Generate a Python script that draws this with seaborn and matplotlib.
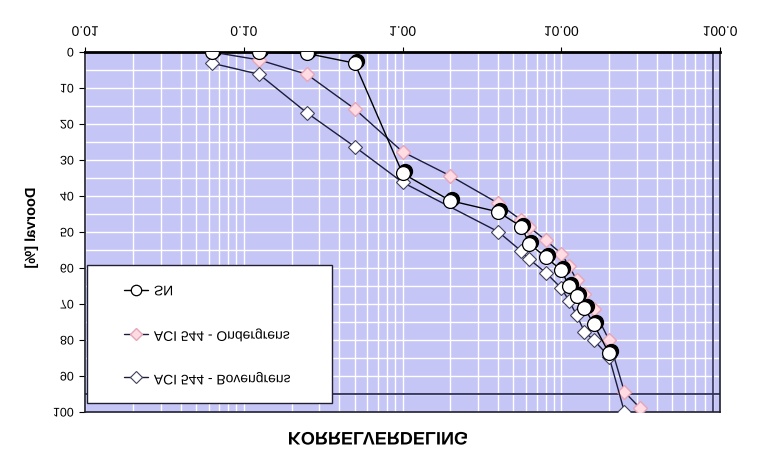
import matplotlib
matplotlib.use("Agg")
import matplotlib.pyplot as plt
import seaborn as sns
import pandas as pd
from matplotlib.patheffects import AbstractPathEffect
from matplotlib.transforms import Affine2D, ScaledTranslation
from matplotlib.ticker import FixedLocator, MultipleLocator, NullFormatter, LogLocator
from matplotlib.patches import Rectangle

# ---------------- data ----------------
sizes_sn = [0.063, 0.125, 0.25, 0.5, 1, 2, 4, 5.6, 6.3, 8, 10, 11.2, 12.5, 14, 16, 20]
pass_sn = [0, 0, 0.4, 3.1, 33.7, 41.3, 44.4, 48.5, 53.3, 57.0, 60.6, 65.0, 67.7, 71.0, 75.6, 83.7]

sizes_onder = [0.063, 0.125, 0.25, 0.5, 1, 2, 4, 5.6, 6.3, 8, 10, 11.2, 12.5, 14, 16, 20, 25, 31.5]
pass_onder = [0, 2.2, 6.2, 15.8, 27.7, 34.4, 42.0, 46.7, 48.7, 52.3, 56.0, 59.5, 63.3, 67.3, 71.5, 80.0, 94.4, 99.0]

sizes_boven = [0.063, 0.125, 0.25, 0.5, 1, 4, 5.6, 6.3, 8, 10, 11.2, 12.5, 14, 16, 20, 25]
pass_boven = [3.1, 6.2, 16.9, 26.3, 36.2, 49.9, 55.3, 57.6, 61.3, 65.6, 69.1, 73.1, 77.7, 80.0, 84.6, 100]

labels = ["SN", "ACI 544 - Ondergrens", "ACI 544 - Bovengrens"]
x_ticks = [0.01, 0.1, 1, 10, 100]
x_ticklabels = ["0.01", "0.10", "1.00", "10.00", "100.0"]
y_ticks = [0, 10, 20, 30, 40, 50, 60, 70, 80, 90, 100]
title = "KORRELVERDELING"
ylabel = "Doorval [%]"
ref_h = 95    # horizontal reference line (%)
ref_v = 90    # vertical reference line (mm)


# path effect: mirror glyphs vertically about their own centre
class VFlip(AbstractPathEffect):
    def draw_path(self, renderer, gc, tpath, affine, rgbFace=None):
        ext = tpath.get_extents(affine)
        cy = 0.5 * (ext.y0 + ext.y1)
        flip = Affine2D().translate(0, -cy).scale(1, -1).translate(0, cy)
        renderer.draw_path(gc, tpath, affine + flip, rgbFace)


sns.set_theme(style="white")
plt.rcParams["font.family"] = ["Liberation Sans", "DejaVu Sans"]

W, H = 783, 458
fig = plt.figure(figsize=(W / 100, H / 100), dpi=100)
ax = fig.add_axes([85 / W, 1 - 412 / H, (720 - 85) / W, (412 - 52) / H])
ax.set_facecolor("#C6C6F6")

df_sn = pd.DataFrame({"size": sizes_sn, "pass": pass_sn})
df_on = pd.DataFrame({"size": sizes_onder, "pass": pass_onder})
df_bo = pd.DataFrame({"size": sizes_boven, "pass": pass_boven})

line_col = "#1c1c3c"
sns.lineplot(data=df_on, x="size", y="pass", ax=ax, sort=False, estimator=None,
             color=line_col, lw=1.0, marker="D", markersize=7.5,
             markerfacecolor="#FFDCE4", markeredgecolor="#E6A6B6", markeredgewidth=1.0,
             label=labels[1], zorder=3)
sns.lineplot(data=df_bo, x="size", y="pass", ax=ax, sort=False, estimator=None,
             color=line_col, lw=1.0, marker="D", markersize=7.5,
             markerfacecolor="white", markeredgecolor="#40405a", markeredgewidth=0.8,
             label=labels[2], zorder=3)
# shadow of SN circles
shadow = ax.transData + ScaledTranslation(1.5 / 72, 1.5 / 72, fig.dpi_scale_trans)
ax.plot(sizes_sn, pass_sn, ls="none", marker="o", markersize=10,
        markerfacecolor="black", markeredgecolor="black", transform=shadow, zorder=3.5)
sns.lineplot(data=df_sn, x="size", y="pass", ax=ax, sort=False, estimator=None,
             color="black", lw=1.0, marker="o", markersize=10,
             markerfacecolor="white", markeredgecolor="black", markeredgewidth=0.9,
             label=labels[0], zorder=4)

ax.axhline(ref_h, color="#20204a", lw=1.2, zorder=2.5)
ax.axvline(ref_v, color="#30305a", lw=1.2, zorder=2.5)

ax.set_xscale("log")
ax.set_xlim(0.01, 100)
ax.set_ylim(100, 0)
ax.xaxis.tick_top()
ax.xaxis.set_major_locator(FixedLocator(x_ticks))
ax.set_xticklabels(x_ticklabels)
ax.xaxis.set_minor_locator(LogLocator(base=10, subs=[2, 3, 4, 5, 6, 7, 8, 9], numticks=20))
ax.xaxis.set_minor_formatter(NullFormatter())
ax.yaxis.set_major_locator(FixedLocator(y_ticks))
ax.set_yticklabels([str(v) for v in y_ticks])
ax.yaxis.set_minor_locator(MultipleLocator(5))

ax.grid(True, which="both", color="white", lw=1.0, zorder=1)
ax.set_axisbelow(True)
ax.tick_params(axis="x", which="major", top=True, bottom=False, direction="out",
               length=3.5, width=0.8, color="black", pad=6, labelsize=10, labelcolor="black")
ax.tick_params(axis="y", which="major", left=True, direction="out", length=4,
               width=0.8, color="black", pad=4, labelsize=9, labelcolor="black")
ax.tick_params(which="minor", length=0)

for side, sp in ax.spines.items():
    sp.set_visible(True)
    sp.set_color("#202030")
    sp.set_linewidth(1.2)
ax.spines["top"].set_color("black")
ax.spines["top"].set_linewidth(2.0)

ax.set_xlabel("")
ax.set_ylabel("")

flip = [VFlip()]
for lbl in ax.get_xticklabels() + ax.get_yticklabels():
    lbl.set_path_effects(flip)

fig.text(31 / W, 1 - 228 / H, ylabel, rotation=90, ha="center", va="center",
         fontsize=10.5, fontweight="bold", color="black", path_effects=flip)
fig.text(378 / W, 1 - 440 / H, title, ha="center", va="center",
         fontsize=13, fontweight="bold", color="black", path_effects=flip)

# legend box
box = Rectangle((87 / W, 1 - 403 / H), (332 - 87) / W, (403 - 265) / H,
                transform=fig.transFigure, facecolor="white", edgecolor="#202030",
                lw=1.0, zorder=6)
ax.add_patch(box)
box.set_clip_on(False)

handles, labs = ax.get_legend_handles_labels()
order = [labs.index(l) for l in labels]
leg = ax.legend([handles[i] for i in order], [labs[i] for i in order],
                loc="center left", bbox_to_anchor=(124 / W, 1 - 334.5 / H),
                bbox_transform=fig.transFigure, frameon=False, fontsize=10,
                labelspacing=2.1, handlelength=1.75, handletextpad=0.4,
                borderpad=0, borderaxespad=0, markerscale=0.75)
leg.set_zorder(7)
for t in leg.get_texts():
    t.set_path_effects(flip)
    t.set_color("black")

fig.savefig("out.png", dpi=100, facecolor="white")
